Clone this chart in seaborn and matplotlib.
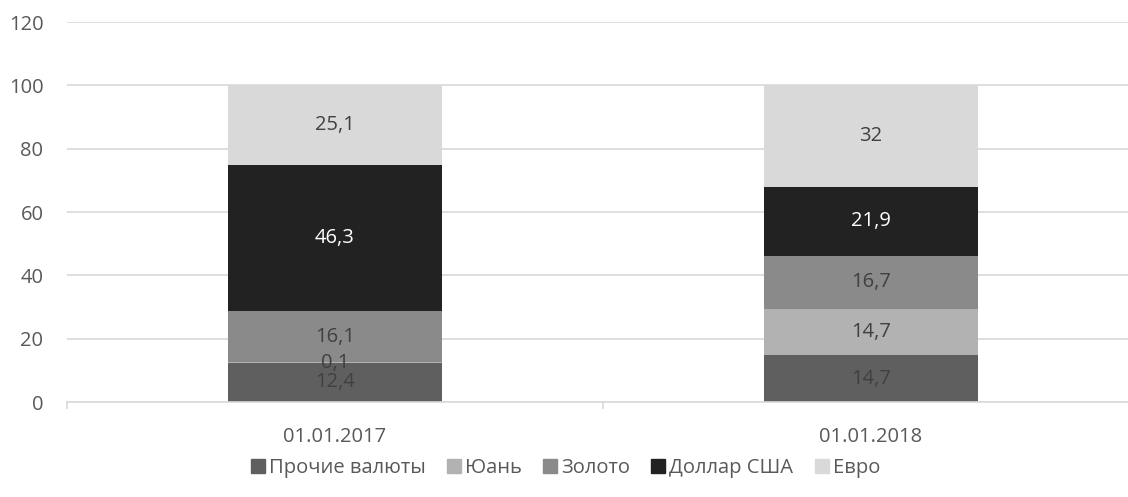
import matplotlib
matplotlib.use("Agg")
import matplotlib.pyplot as plt
import seaborn as sns
import numpy as np
from matplotlib.lines import Line2D

categories = ["01.01.2017", "01.01.2018"]
series_names = ["Прочие валюты", "Юань", "Золото", "Доллар США", "Евро"]
prochie = [12.4, 14.7]
yuan = [0.1, 14.7]
zoloto = [16.1, 16.7]
dollar = [46.3, 21.9]
evro = [25.1, 32]
series_values = [prochie, yuan, zoloto, dollar, evro]
colors = ["#5f5f5f", "#b2b2b2", "#8a8a8a", "#222222", "#d9d9d9"]
label_colors = ["#404040", "#404040", "#404040", "#ffffff", "#404040"]
yticks = [0, 20, 40, 60, 80, 100, 120]

sns.set_theme(style="white")
plt.rcParams["font.family"] = ["Open Sans", "DejaVu Sans"]
FS = 14.5

fig = plt.figure(figsize=(11.28, 4.97), dpi=100)
ax = fig.add_axes([67 / 1128, 1 - 402 / 497, (1139 - 67) / 1128, (402 - 22) / 497])

bottom = np.zeros(len(categories))
handles = []
for name, vals, col, lcol in zip(series_names, series_values, colors, label_colors):
    sns.barplot(x=categories, y=vals, color=col, bottom=bottom, width=0.4,
                ax=ax, linewidth=0, saturation=1, order=categories)
    cont = ax.containers[-1]
    ax.bar_label(cont, labels=[f"{v:g}".replace(".", ",") for v in vals],
                 label_type="center", color=lcol, fontsize=FS)
    bottom = bottom + np.array(vals)
    handles.append(Line2D([], [], marker="s", linestyle="none", markersize=10,
                          markerfacecolor=col, markeredgecolor=col, label=name))

for cont in ax.containers:
    for p in cont.patches:
        p.set_linewidth(0)

ax.set_xlim(-0.5, 1.5)
ax.set_ylim(0, 120)
ax.set_yticks(yticks)
ax.yaxis.grid(True, color="#d9d9d9", linewidth=1.2)
ax.set_axisbelow(True)
for s in ["left", "right", "top"]:
    ax.spines[s].set_visible(False)
ax.spines["bottom"].set_color("#d9d9d9")
ax.spines["bottom"].set_linewidth(1.2)

ax.set_xticks([-0.5, 0.5, 1.5], minor=True)
ax.tick_params(axis="x", which="minor", length=5, width=1.2, color="#d9d9d9", direction="out", bottom=True)
ax.tick_params(axis="x", which="major", length=0, pad=18, labelsize=FS, labelcolor="#595959")
ax.tick_params(axis="y", length=0, pad=17, labelsize=FS, labelcolor="#595959")
ax.set_xlabel("")
ax.set_ylabel("")

fig.legend(handles=handles, loc="center", bbox_to_anchor=(0.5, 1 - 468 / 497), ncol=5,
           frameon=False, fontsize=FS, handletextpad=0.05, columnspacing=0.9,
           labelcolor="#595959", handlelength=1.0)

fig.savefig("out.png", dpi=100)
